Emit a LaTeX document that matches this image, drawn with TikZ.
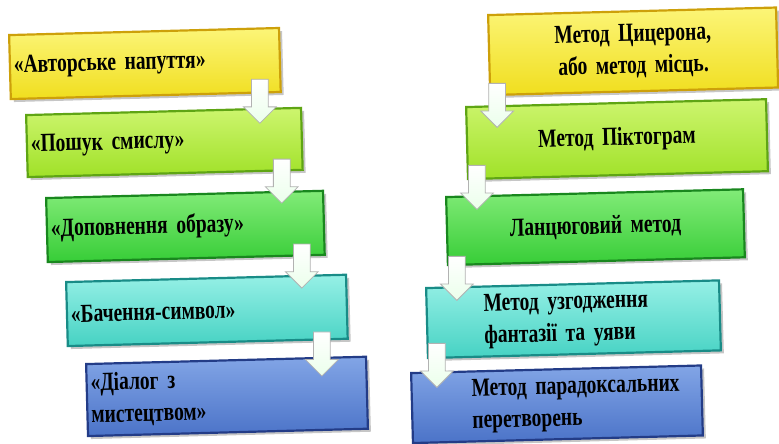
\documentclass[tikz,border=0pt]{standalone}
\usepackage{fontspec}
\setmainfont[FakeStretch=0.75]{Liberation Serif}
\usetikzlibrary{shapes.arrows,shadows,calc}
\definecolor{yelfill}{RGB}{240,222,30}
\definecolor{yeltop}{RGB}{252,245,120}
\definecolor{yeldraw}{RGB}{205,160,10}
\definecolor{limfill}{RGB}{160,225,40}
\definecolor{limtop}{RGB}{205,245,110}
\definecolor{limdraw}{RGB}{95,165,20}
\definecolor{grnfill}{RGB}{55,205,55}
\definecolor{grntop}{RGB}{130,235,120}
\definecolor{grndraw}{RGB}{25,135,30}
\definecolor{cyafill}{RGB}{70,210,195}
\definecolor{cyatop}{RGB}{150,240,230}
\definecolor{cyadraw}{RGB}{25,140,135}
\definecolor{blufill}{RGB}{75,115,200}
\definecolor{blutop}{RGB}{130,165,230}
\definecolor{bludraw}{RGB}{35,60,135}
\newcommand\boxfont{\bfseries\fontsize{26}{32}\selectfont\spaceskip=2.5pt\relax}
\tikzset{
  box/.style={line width=2.2pt, anchor=north west, inner xsep=4pt, inner ysep=2pt,
    font=\boxfont, rotate=1.5,
    drop shadow={shadow xshift=3pt, shadow yshift=-3pt, opacity=.45}},
  yelbox/.style={box, draw=yeldraw, top color=yeltop, bottom color=yelfill},
  limbox/.style={box, draw=limdraw, top color=limtop, bottom color=limfill},
  grnbox/.style={box, draw=grndraw, top color=grntop, bottom color=grnfill},
  cyabox/.style={box, draw=cyadraw, top color=cyatop, bottom color=cyafill},
  blubox/.style={box, draw=bludraw, top color=blutop, bottom color=blufill},
  downarrow/.style={single arrow, draw=gray!60, line width=.8pt, top color=white,
    bottom color=green!8, shape border rotate=270, minimum height=44pt,
    inner sep=8pt, single arrow head extend=8pt}
}
\begin{document}
\begin{tikzpicture}[x=1pt,y=-1pt]
  \useasboundingbox (0,0) rectangle (779,444);
  % left column
  \node[yelbox, text width=262pt, minimum height=64pt, align=left] (avt) at (8,34) {«Авторське напуття»};
  \node[limbox, text width=267pt, minimum height=62pt, align=left] (poshuk) at (25,114) {«Пошук смислу»};
  \node[grnbox, text width=269pt, minimum height=64pt, align=left] (dopov) at (45,197) {«Доповнення образу»};
  \node[cyabox, text width=272pt, minimum height=64pt, align=left] (bach) at (65,281) {«Бачення-символ»};
  \node[blubox, text width=272pt, minimum height=72pt, align=left] (dial) at (85,363) {«Діалог з\\мистецтвом»};
  %
  \node[downarrow] (a1) at ($(avt.south east)+(-22,4)$) {};
  \node[downarrow] (a2) at ($(poshuk.south east)+(-22,6)$) {};
  \node[downarrow] (a3) at ($(dopov.south east)+(-24,6)$) {};
  \node[downarrow] (a4) at ($(bach.south east)+(-27,10)$) {};
  % right column
  \node[yelbox, text width=280pt, minimum height=80pt, align=center] (cyc) at (487,14) {Метод Цицерона,\\або метод місць.};
  \node[limbox, text width=292pt, minimum height=72pt, align=center] (pikt) at (465,106) {Метод Піктограм};
  \node[grnbox, text width=289pt, minimum height=68pt, align=center] (lanc) at (445,196) {Ланцюговий метод};
  \node[cyabox, text width=285pt, minimum height=70pt, align=left] (uzg) at (425,287) {\hspace*{53pt}Метод узгодження\\\hspace*{53pt}фантазії та уяви};
  \node[blubox, text width=282pt, minimum height=70pt, align=left] (parad) at (410,372) {\hspace*{56pt}Метод парадоксальних\\\hspace*{56pt}перетворень};
  %
  \node[downarrow] (b1) at ($(cyc.south west)+(8,5)$) {};
  \node[downarrow] (b2) at ($(pikt.south west)+(10,3)$) {};
  \node[downarrow] (b3) at ($(lanc.south west)+(10,8)$) {};
  \node[downarrow] (b4) at ($(uzg.south west)+(10,2)$) {};
\end{tikzpicture}
\end{document}
